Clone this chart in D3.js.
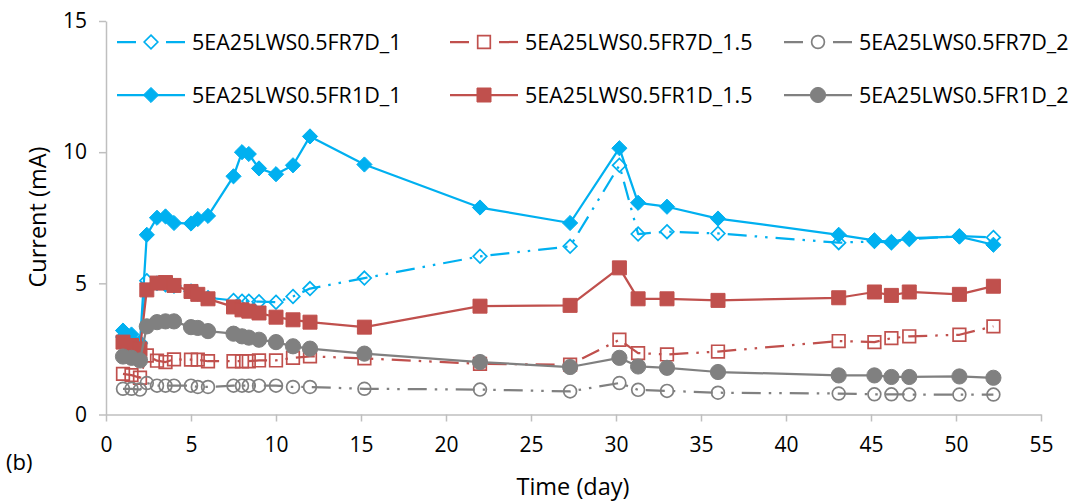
<!DOCTYPE html>
<html><head><meta charset="utf-8">
<script src="https://cdn.jsdelivr.net/npm/d3@7"></script>
<style>
body{margin:0;background:#fff}
text{font-family:"Open Sans",sans-serif;fill:#000}
</style>
</head><body>
<svg id="c" width="1073" height="502"></svg>
<script>
// ---- data ----
const days = [1.0, 1.5, 2.0, 2.4, 3.0, 3.5, 4.0, 5.0, 5.4, 6.0, 7.5, 8.0, 8.4, 9.0, 10.0, 11.0, 12.0, 15.2, 22.0, 27.3, 30.2, 31.3, 33.0, 36.0, 43.1, 45.2, 46.2, 47.25, 50.2, 52.2];
const fr7d_1   = [2.95, 2.85, 2.75, 5.1, 5.0, 4.95, 4.9, 4.7, 4.6, 4.45, 4.35, 4.32, 4.32, 4.3, 4.28, 4.5, 4.8, 5.2, 6.03, 6.41, 9.5, 6.88, 6.97, 6.9, 6.55, 6.6, 6.55, 6.68, 6.8, 6.75];
const fr7d_1_5 = [1.55, 1.5, 1.4, 2.25, 2.05, 2.0, 2.1, 2.09, 2.09, 2.03, 2.03, 2.03, 2.03, 2.06, 2.06, 2.16, 2.22, 2.14, 1.93, 1.9, 2.85, 2.34, 2.29, 2.4, 2.8, 2.76, 2.91, 2.98, 3.04, 3.36];
const fr7d_2   = [0.98, 0.98, 0.95, 1.2, 1.1, 1.1, 1.1, 1.1, 1.05, 1.05, 1.1, 1.1, 1.1, 1.1, 1.1, 1.05, 1.05, 0.98, 0.95, 0.88, 1.2, 0.94, 0.9, 0.83, 0.8, 0.77, 0.77, 0.76, 0.76, 0.76];
const fr1d_1   = [3.2, 3.05, 2.7, 6.85, 7.5, 7.55, 7.3, 7.28, 7.45, 7.57, 9.08, 10.0, 9.93, 9.38, 9.16, 9.5, 10.6, 9.53, 7.89, 7.3, 10.15, 8.07, 7.92, 7.47, 6.85, 6.64, 6.58, 6.72, 6.78, 6.47];
const fr1d_1_5 = [2.76, 2.63, 2.5, 4.75, 5.01, 5.03, 4.92, 4.69, 4.58, 4.41, 4.1, 3.99, 3.94, 3.87, 3.71, 3.61, 3.52, 3.33, 4.13, 4.16, 5.59, 4.41, 4.41, 4.35, 4.45, 4.67, 4.54, 4.67, 4.58, 4.89];
const fr1d_2   = [2.21, 2.16, 2.06, 3.36, 3.52, 3.55, 3.55, 3.33, 3.3, 3.18, 3.08, 2.98, 2.93, 2.85, 2.76, 2.6, 2.51, 2.32, 2.0, 1.81, 2.16, 1.83, 1.78, 1.62, 1.49, 1.49, 1.43, 1.43, 1.45, 1.4];
const seriesNames = ["5EA25LWS0.5FR7D_1", "5EA25LWS0.5FR7D_1.5", "5EA25LWS0.5FR7D_2",
                     "5EA25LWS0.5FR1D_1", "5EA25LWS0.5FR1D_1.5", "5EA25LWS0.5FR1D_2"];
const xTicks = [0, 5, 10, 15, 20, 25, 30, 35, 40, 45, 50, 55];
const yTicks = [0, 5, 10, 15];

// ---- styles ----
const BLUE = "#00B0F0", RED = "#C0504D", GRAY = "#808080";
const DASH = "19,8,2.5,8,2.5,8";
const series = [
  {name: seriesNames[0], values: fr7d_1,   color: BLUE, shape: "diamond", filled: false},
  {name: seriesNames[1], values: fr7d_1_5, color: RED,  shape: "square",  filled: false},
  {name: seriesNames[2], values: fr7d_2,   color: GRAY, shape: "circle",  filled: false},
  {name: seriesNames[3], values: fr1d_1,   color: BLUE, shape: "diamond", filled: true},
  {name: seriesNames[4], values: fr1d_1_5, color: RED,  shape: "square",  filled: true},
  {name: seriesNames[5], values: fr1d_2,   color: GRAY, shape: "circle",  filled: true}
];

const svg = d3.select("#c");
const x = d3.scaleLinear().domain([0, 55]).range([106, 1041]);
const y = d3.scaleLinear().domain([0, 15]).range([414.5, 21]);

// marker shapes (size param = half-extent)
const shapes = {
  diamond: {draw(ctx, r){ ctx.moveTo(0,-r); ctx.lineTo(r,0); ctx.lineTo(0,r); ctx.lineTo(-r,0); ctx.closePath(); }},
  square:  {draw(ctx, r){ ctx.rect(-r,-r,2*r,2*r); }},
  circle:  {draw(ctx, r){ ctx.moveTo(r,0); ctx.arc(0,0,r,0,2*Math.PI); }}
};
const halfSize = {
  diamond: {filled: 7.6, open: 6.8},
  square:  {filled: 7.0, open: 6.3},
  circle:  {filled: 7.6, open: 6.4}
};
function markerPath(s){
  const r = s.filled ? halfSize[s.shape].filled : halfSize[s.shape].open;
  return d3.symbol().type(shapes[s.shape]).size(r)();
}
function styleMarker(sel, s){
  sel.attr("d", markerPath(s))
     .attr("fill", s.filled ? s.color : "none")
     .attr("stroke", s.color)
     .attr("stroke-width", s.filled ? 1 : 1.7);
}

// ---- axes ----
const xAxis = svg.append("g").attr("transform", "translate(0,414.5)")
  .call(d3.axisBottom(x).tickValues(xTicks).tickSize(7).tickSizeOuter(0).tickPadding(16));
const yAxis = svg.append("g").attr("transform", "translate(106,0)")
  .call(d3.axisLeft(y).tickValues(yTicks).tickSize(7).tickSizeOuter(0).tickPadding(12));
[xAxis, yAxis].forEach(a => {
  a.selectAll("path.domain, line").attr("stroke", "#BFBFBF").attr("stroke-width", 1.5);
  a.selectAll("text").style("font-family", '"Open Sans",sans-serif').style("font-size", "21px").attr("fill", "#000");
});

// ---- series ----
const line = d3.line().x(d => x(d[0])).y(d => y(d[1]));
series.forEach(s => {
  const pts = days.map((d, i) => [d, s.values[i]]);
  const g = svg.append("g");
  g.append("path").attr("d", line(pts))
    .attr("fill", "none").attr("stroke", s.color).attr("stroke-width", 2.25)
    .attr("stroke-linejoin", "round")
    .attr("stroke-dasharray", s.filled ? null : DASH);
  g.selectAll("path.m").data(pts).join("path").attr("class", "m")
    .attr("transform", d => `translate(${x(d[0])},${y(d[1])})`)
    .call(sel => styleMarker(sel, s));
});

// ---- legend ----
const legCols = [117, 450, 784];
const legRows = [42, 95];
series.forEach((s, i) => {
  const cx = legCols[i % 3], cy = legRows[Math.floor(i / 3)];
  const g = svg.append("g").attr("transform", `translate(${cx},${cy})`);
  g.append("line").attr("x1", 0).attr("x2", 68).attr("y1", 0).attr("y2", 0)
    .attr("stroke", s.color).attr("stroke-width", 2.25)
    .attr("stroke-dasharray", s.filled ? null : "19,30");
  g.append("path").attr("transform", "translate(34,0)").call(sel => styleMarker(sel, s));
  g.append("text").attr("x", 75).attr("y", 0).attr("dy", "0.36em")
    .style("font-size", "21.5px").text(s.name);
});

// ---- titles ----
svg.append("text").attr("x", 573).attr("y", 495).attr("text-anchor", "middle")
  .style("font-size", "23.5px").text("Time (day)");
svg.append("text").attr("transform", "translate(46,217) rotate(-90)").attr("text-anchor", "middle")
  .style("font-size", "23.5px").text("Current (mA)");
svg.append("text").attr("x", 6).attr("y", 470).style("font-size", "22px").text("(b)");
</script>
</body></html>
